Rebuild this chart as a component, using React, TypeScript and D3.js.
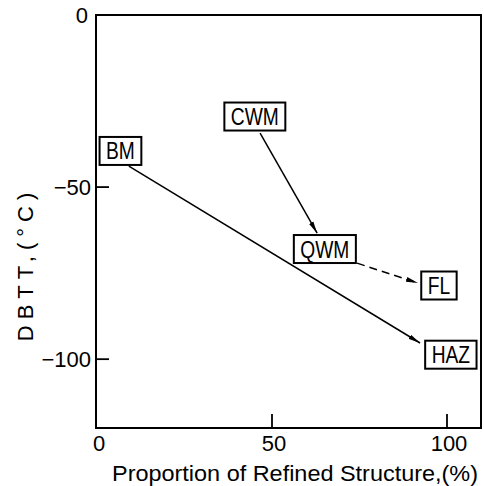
import React, { useEffect, useRef } from "react";
import * as d3 from "d3";

const labels = ["BM", "CWM", "QWM", "FL", "HAZ"];
const propX = [6.7, 45.1, 65.1, 97.7, 101.1];
const dbttY = [-39.5, -29.5, -68, -78.6, -98.7];

// arrows
const arrowFromX = [9.1, 46.6, 74.3];
const arrowFromY = [-43.9, -34.3, -72.1];
const arrowToX = [92.3, 62.9, 91.7];
const arrowToY = [-95.3, -63.4, -77.9];
const arrowDashed = [false, false, true];

const xTicks = [0, 50, 100];
const yTicks = [0, -50, -100];

const W = 484;
const H = 486;
const FONT = "'Liberation Sans', Arial, sans-serif";

export default function App() {
  const ref = useRef<SVGSVGElement>(null);
  useEffect(() => {
    const svg = d3.select(ref.current);
    svg.selectAll("*").remove();
    const x = d3.scaleLinear().domain([0, 110]).range([97, 482]);
    const y = d3.scaleLinear().domain([-120, 0]).range([428, 15]);

    svg.append("rect").attr("width", W).attr("height", H).attr("fill", "#fff");

    const defs = svg.append("defs");
    defs
      .append("marker")
      .attr("id", "ah")
      .attr("viewBox", "0 0 12 6")
      .attr("refX", 12)
      .attr("refY", 3)
      .attr("markerWidth", 12)
      .attr("markerHeight", 6)
      .attr("markerUnits", "userSpaceOnUse")
      .attr("orient", "auto")
      .append("path")
      .attr("d", "M0,0.6 L12,3 L0,5.4 Z")
      .attr("fill", "#000");

    // frame
    svg
      .append("rect")
      .attr("x", x(0) - 1)
      .attr("y", y(0))
      .attr("width", x(110) - x(0))
      .attr("height", y(-120) - y(0))
      .attr("fill", "none")
      .attr("stroke", "#000")
      .attr("stroke-width", 2);

    xTicks.forEach((t) => {
      if (t > 0) {
        svg
          .append("line")
          .attr("x1", x(t))
          .attr("x2", x(t))
          .attr("y1", y(-120))
          .attr("y2", y(-120) - 14)
          .attr("stroke", "#000")
          .attr("stroke-width", 1.8);
      }
      svg
        .append("text")
        .attr("x", x(t) + 2)
        .attr("y", y(-120) + 23)
        .attr("text-anchor", "middle")
        .attr("font-family", FONT)
        .attr("font-size", 22)
        .text(String(t));
    });

    yTicks.forEach((t) => {
      if (t < 0) {
        svg
          .append("line")
          .attr("x1", x(0) - 1)
          .attr("x2", x(0) + 12)
          .attr("y1", y(t))
          .attr("y2", y(t))
          .attr("stroke", "#000")
          .attr("stroke-width", 1.8);
      }
      svg
        .append("text")
        .attr("x", t === 0 ? 88 : 91)
        .attr("y", y(t) + 8)
        .attr("text-anchor", "end")
        .attr("font-family", FONT)
        .attr("font-size", 22)
        .text(t < 0 ? "\u2212" + String(-t) : String(t));
    });

    // axis titles
    svg
      .append("text")
      .attr("x", 112)
      .attr("y", 481)
      .attr("font-family", FONT)
      .attr("font-size", 22)
      .attr("textLength", 366)
      .attr("lengthAdjust", "spacingAndGlyphs")
      .text("Proportion  of Refined Structure,(%)");

    svg
      .append("text")
      .attr("transform", `translate(33,${(190 + 338) / 2}) rotate(-90)`)
      .attr("text-anchor", "middle")
      .attr("font-family", FONT)
      .attr("font-size", 22)
      .attr("letter-spacing", 6)
      .text("DBTT,(°C)");

    // arrows
    arrowFromX.forEach((fx, i) => {
      svg
        .append("line")
        .attr("x1", x(fx))
        .attr("y1", y(arrowFromY[i]))
        .attr("x2", x(arrowToX[i]))
        .attr("y2", y(arrowToY[i]))
        .attr("stroke", "#000")
        .attr("stroke-width", 1.5)
        .attr("stroke-dasharray", arrowDashed[i] ? "8,5" : null)
        .attr("marker-end", "url(#ah)");
    });

    // labelled boxes
    labels.forEach((lab, i) => {
      const g = svg.append("g").attr("transform", `translate(${x(propX[i])},${y(dbttY[i])})`);
      const rect = g.append("rect").attr("fill", "#fff").attr("stroke", "#000").attr("stroke-width", 2);
      const txt = g
        .append("text")
        .attr("text-anchor", "middle")
        .attr("y", 8.5)
        .attr("font-family", FONT)
        .attr("font-size", 24)
        .attr("transform", "scale(0.8,1)")
        .text(lab);
      const w = (txt.node() as SVGTextElement).getComputedTextLength() * 0.8;
      rect
        .attr("x", -w / 2 - 6.5)
        .attr("y", -14)
        .attr("width", w + 13)
        .attr("height", 28);
    });
  }, []);

  return (
    <svg
      ref={ref}
      width={W}
      height={H}
      style={{ position: "absolute", left: 0, top: 0 }}
    />
  );
}
